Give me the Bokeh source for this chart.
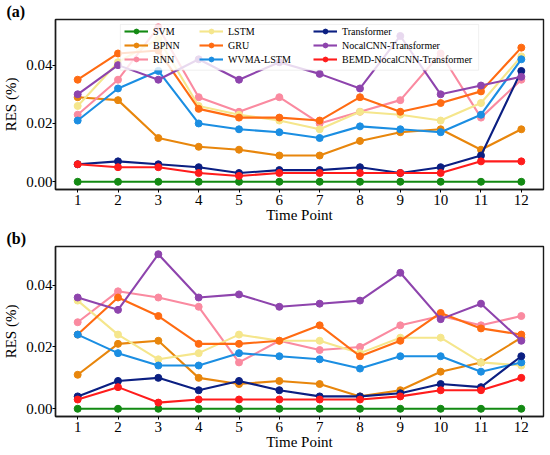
from bokeh.plotting import figure
from bokeh.models import Range1d, FixedTicker, Legend, LegendItem, BoxAnnotation, PrintfTickFormatter
from bokeh.layouts import column
from bokeh.embed import file_html
from bokeh.resources import INLINE

time_points = [1, 2, 3, 4, 5, 6, 7, 8, 9, 10, 11, 12]
y_ticks = [0.0, 0.02, 0.04]
model_names = ["SVM", "BPNN", "RNN", "LSTM", "GRU", "WVMA-LSTM", "Transformer",
               "NocalCNN-Transformer", "BEMD-NocalCNN-Transformer"]
model_colors = ["#138a13", "#e8860c", "#fa8aa0", "#f5e68c", "#ff6b12", "#1b8ee2",
                "#0b1f82", "#8e44ad", "#ff1c1c"]

# Panel (a)
a_svm = [0.0, 0.0, 0.0, 0.0, 0.0, 0.0, 0.0, 0.0, 0.0, 0.0, 0.0, 0.0]
a_bpnn = [0.029, 0.028, 0.015, 0.012, 0.011, 0.009, 0.009, 0.014, 0.017, 0.018, 0.011, 0.018]
a_rnn = [0.023, 0.035, 0.053, 0.029, 0.024, 0.029, 0.020, 0.024, 0.028, 0.044, 0.022, 0.035]
a_lstm = [0.026, 0.041, 0.049, 0.026, 0.023, 0.021, 0.018, 0.024, 0.023, 0.021, 0.027, 0.043]
a_gru = [0.035, 0.044, 0.045, 0.025, 0.022, 0.022, 0.021, 0.029, 0.024, 0.027, 0.031, 0.046]
a_wvma = [0.021, 0.032, 0.038, 0.020, 0.018, 0.017, 0.015, 0.019, 0.018, 0.017, 0.023, 0.042]
a_trans = [0.006, 0.007, 0.006, 0.005, 0.003, 0.004, 0.004, 0.005, 0.003, 0.005, 0.009, 0.038]
a_nocal = [0.030, 0.040, 0.035, 0.042, 0.035, 0.041, 0.037, 0.032, 0.050, 0.030, 0.033, 0.036]
a_bemd = [0.006, 0.005, 0.005, 0.003, 0.002, 0.003, 0.003, 0.003, 0.003, 0.003, 0.007, 0.007]

# Panel (b)
b_svm = [0.0, 0.0, 0.0, 0.0, 0.0, 0.0, 0.0, 0.0, 0.0, 0.0, 0.0, 0.0]
b_bpnn = [0.011, 0.021, 0.022, 0.010, 0.008, 0.009, 0.008, 0.004, 0.006, 0.012, 0.015, 0.023]
b_rnn = [0.028, 0.038, 0.036, 0.033, 0.015, 0.022, 0.019, 0.020, 0.027, 0.030, 0.027, 0.030]
b_lstm = [0.035, 0.024, 0.016, 0.018, 0.024, 0.022, 0.022, 0.018, 0.023, 0.023, 0.015, 0.014]
b_gru = [0.024, 0.036, 0.030, 0.021, 0.021, 0.022, 0.027, 0.017, 0.022, 0.031, 0.026, 0.024]
b_wvma = [0.024, 0.018, 0.014, 0.014, 0.018, 0.017, 0.016, 0.013, 0.017, 0.017, 0.012, 0.015]
b_trans = [0.004, 0.009, 0.010, 0.006, 0.009, 0.006, 0.004, 0.004, 0.005, 0.008, 0.007, 0.017]
b_nocal = [0.036, 0.032, 0.050, 0.036, 0.037, 0.033, 0.034, 0.035, 0.044, 0.029, 0.034, 0.022]
b_bemd = [0.003, 0.007, 0.002, 0.003, 0.003, 0.003, 0.003, 0.003, 0.004, 0.006, 0.006, 0.010]

series_a = [a_svm, a_bpnn, a_rnn, a_lstm, a_gru, a_wvma, a_trans, a_nocal, a_bemd]
series_b = [b_svm, b_bpnn, b_rnn, b_lstm, b_gru, b_wvma, b_trans, b_nocal, b_bemd]

FONT = "Liberation Serif"
W = 550
BL, BR = 54, 7
X0, X1 = 0.45, 12.55


def make_panel(series, y0, y1, h, top, bottom, tag, legend):
    p = figure(width=W, height=h, output_backend="svg", toolbar_location=None,
               x_range=Range1d(X0, X1), y_range=Range1d(y0, y1),
               min_border_left=BL, min_border_right=BR,
               min_border_top=top, min_border_bottom=bottom)
    p.background_fill_color = "white"
    p.border_fill_color = "white"
    p.xgrid.visible = False
    p.ygrid.visible = False
    p.outline_line_color = "#1a1a1a"
    p.outline_line_width = 1.4
    p.outline_line_alpha = 1.0

    p.title.text = tag
    p.title.align = "left"
    p.title.offset = -(BL - 5)
    p.title.standoff = 0
    p.title.text_font = FONT
    p.title.text_font_size = "16px"
    p.title.text_font_style = "bold"
    p.title.text_color = "black"

    for ax in (p.xaxis, p.yaxis):
        ax.axis_line_color = "#1a1a1a"
        ax.axis_line_width = 1.4
        ax.major_tick_out = 3
        ax.major_tick_in = 0
        ax.minor_tick_out = 0
        ax.minor_tick_in = 0
        ax.major_tick_line_width = 1
        ax.major_label_text_font = FONT
        ax.major_label_text_font_size = "15px"
        ax.major_label_text_color = "black"
        ax.axis_label_text_font = FONT
        ax.axis_label_text_font_size = "15px"
        ax.axis_label_text_font_style = "normal"
        ax.axis_label_text_color = "black"
    p.xaxis.major_label_standoff = 2
    p.yaxis.major_label_standoff = 0
    p.xaxis.axis_label_standoff = -1
    p.yaxis.axis_label_standoff = 4
    p.xaxis.ticker = FixedTicker(ticks=time_points)
    p.yaxis.ticker = FixedTicker(ticks=y_ticks)
    p.yaxis.formatter = PrintfTickFormatter(format="%.2f")
    p.xaxis.axis_label = "Time Point"
    p.yaxis.axis_label = "RES (%)"

    rends = []
    for vals, col in zip(series, model_colors):
        ln = p.line(time_points, vals, line_color=col, line_width=2.1)
        sc = p.scatter(time_points, vals, size=7, fill_color=col, line_color=col)
        rends.append([ln, sc])

    frame_w = W - BL - BR
    frame_h = h - top - bottom
    ppx = frame_w / (X1 - X0)
    ppy = frame_h / (y1 - y0)

    if legend:
        bl, br, bt, bb = 65, 424, 5, 51
        box = BoxAnnotation(left=X0 + bl / ppx, right=X0 + br / ppx,
                            top=y1 - bt / ppy, bottom=y1 - bb / ppy,
                            fill_color="white", fill_alpha=0.8,
                            line_color="#cccccc", line_width=1)
        p.add_layout(box)
        groups = [[0, 1, 2], [3, 4, 5], [6, 7, 8]]
        col_x = [69, 144, 258]
        for gi, idxs in enumerate(groups):
            items = [LegendItem(label=model_names[i], renderers=rends[i]) for i in idxs]
            leg = Legend(items=items, location=(col_x[gi], frame_h - 47),
                         orientation="vertical",
                         background_fill_alpha=0.0, border_line_alpha=0.0,
                         padding=0, spacing=2, margin=0,
                         glyph_width=24, glyph_height=12, label_height=12,
                         label_standoff=5, label_text_font=FONT,
                         label_text_font_size="10px", label_text_color="black")
            p.add_layout(leg)
    return p


pa = make_panel(series_a, -0.00265, 0.05565, 227, 18, 38, "(a)", True)
pb = make_panel(series_b, -0.0025, 0.0525, 227, 19, 38, "(b)", False)

layout = column(pa, pb, spacing=0)
open("out.html", "w").write(file_html(layout, INLINE))
